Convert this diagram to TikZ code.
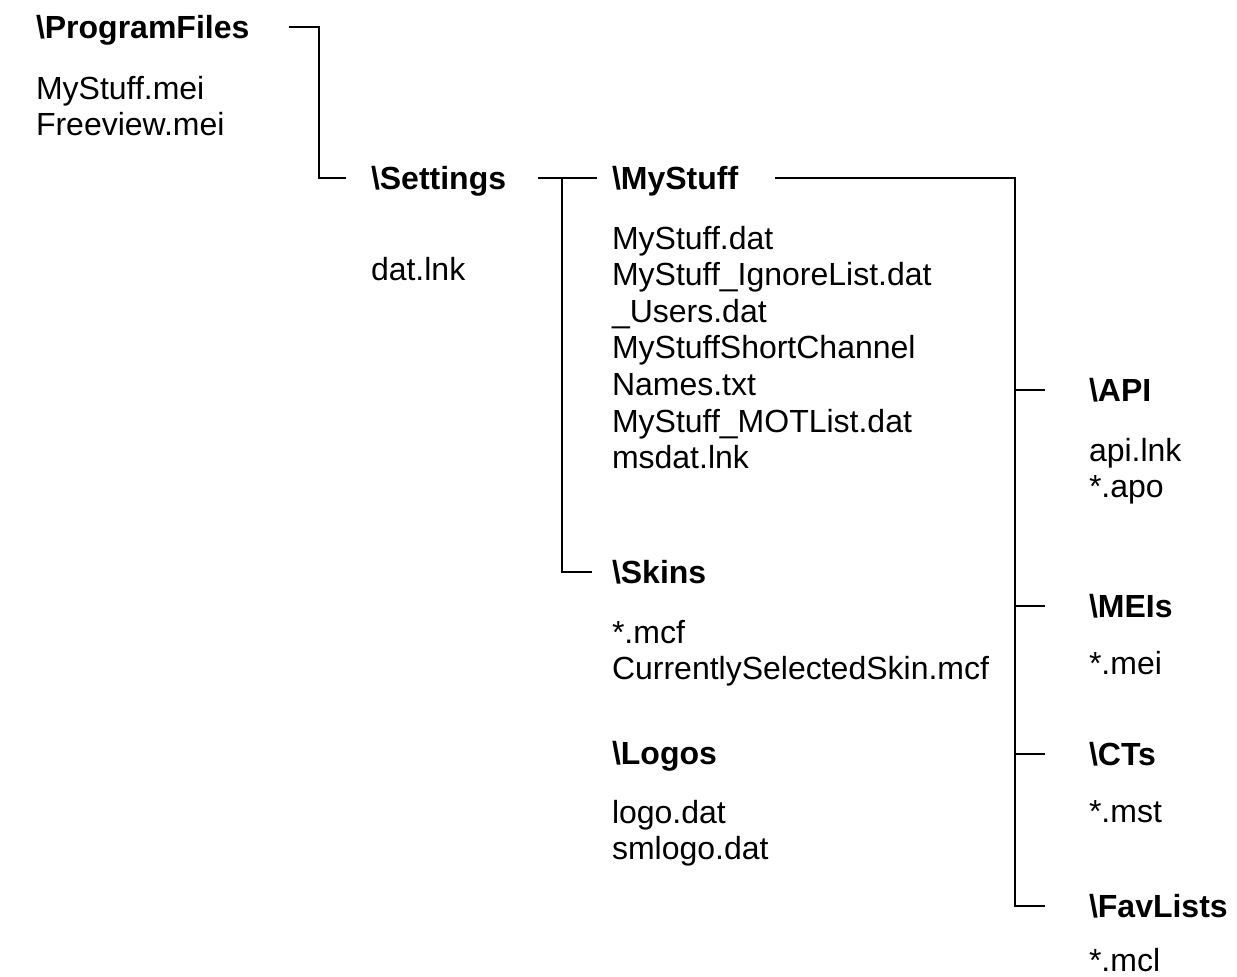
\documentclass[tikz,border=0pt]{standalone}
\usepackage{fontspec}
\setmainfont{Liberation Sans}
\usetikzlibrary{positioning}

\begin{document}
\begin{tikzpicture}[x=0.5pt, y=-0.5pt, line width=1pt,
      folder/.style={anchor=base west, inner sep=0pt, font=\fontsize{16}{18.3}\selectfont\bfseries, text height=11.5pt, text depth=0pt},
      files/.style={anchor=north west, inner sep=0pt, align=left, font=\fontsize{16}{18.3}\selectfont}]
    \useasboundingbox (0,0) rectangle (1237,976);

    % folders and their files
    \node[folder] (progfiles) at (35,38) {\textbackslash ProgramFiles};
    \node[files] (progfilesls) at (35,75) {MyStuff.mei\\Freeview.mei};
    \node[folder] (settings) at (370,189) {\textbackslash Settings};
    \node[files] (settingsls) at (370,256) {dat.lnk};
    \node[folder] (mystuff) at (611,189) {\textbackslash MyStuff};
    \node[files] (mystuffls) at (611,225) {MyStuff.dat\\MyStuff\_IgnoreList.dat\\\_Users.dat\\MyStuffShortChannel\\Names.txt\\MyStuff\_MOTList.dat\\msdat.lnk};
    \node[folder] (skins) at (611,583) {\textbackslash Skins};
    \node[files] (skinsls) at (611,619) {*.mcf\\CurrentlySelectedSkin.mcf};
    \node[folder] (logos) at (611,764) {\textbackslash Logos};
    \node[files] (logosls) at (611,799) {logo.dat\\smlogo.dat};
    \node[folder] (api) at (1088,401) {\textbackslash API};
    \node[files] (apils) at (1088,437) {api.lnk\\*.apo};
    \node[folder] (meis) at (1088,617) {\textbackslash MEIs};
    \node[files] (meisls) at (1088,650) {*.mei};
    \node[folder] (cts) at (1088,765) {\textbackslash CTs};
    \node[files] (ctsls) at (1088,799) {*.mst};
    \node[folder] (favlists) at (1088,917) {\textbackslash FavLists};
    \node[files] (favlistsls) at (1088,947) {*.mcl};

    % tree lines
    \draw ([xshift=19.5pt]progfiles.east) -- ++(15pt,0) |- ([xshift=-12pt]settings.west);
    \draw ([xshift=15.5pt]settings.east) -- ([xshift=-7pt]mystuff.west);
    \coordinate (setbus) at (562,177.5);
    \draw (setbus) |- ([xshift=-9.5pt]skins.west);
    \coordinate (stuffbus) at (1015,177.5);
    \draw ([xshift=18pt]mystuff.east) -- (stuffbus) |- ([xshift=-21.5pt]favlists.west);
    \foreach \n in {api,meis,cts}
      \draw (stuffbus |- \n.west) -- ([xshift=-21.5pt]\n.west);
\end{tikzpicture}
\end{document}
